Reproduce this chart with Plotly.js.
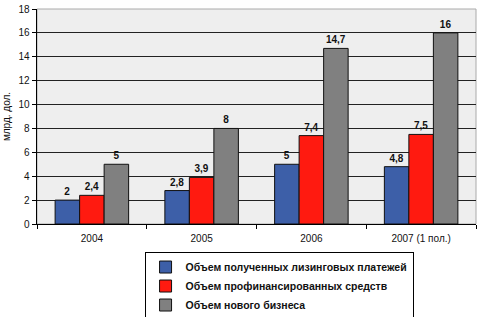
<!DOCTYPE html>
<html><head><meta charset="utf-8">
<script src="https://cdn.plot.ly/plotly-3.0.1.min.js"></script>
<style>html,body{margin:0;padding:0;background:#fff}#chart{width:480px;height:317px}</style>
</head><body><div id="chart"></div>
<script>
const categories = ['2004', '2005', '2006', '2007 (1 пол.)'];
const seriesNames = ['Объем полученных лизинговых платежей', 'Объем профинансированных средств', 'Объем нового бизнеса'];
const payments = [2, 2.8, 5, 4.8];
const financed = [2.4, 3.9, 7.4, 7.5];
const newBusiness = [5, 8, 14.7, 16];
const yTicks = [0, 2, 4, 6, 8, 10, 12, 14, 16, 18];
const colors = ['#3d5fa8', '#ff1a10', '#808080'];

const font = {family: 'Arial, "Liberation Sans", sans-serif', color: '#111'};
const values = [payments, financed, newBusiness];
const traces = values.map((v, i) => ({
  type: 'bar', name: seriesNames[i], x: categories, y: v,
  marker: {color: colors[i], line: {color: '#111', width: 1}},
  texttemplate: '%{y}', textposition: 'outside', cliponaxis: false,
  textfont: {family: font.family, size: 10, color: '#111', weight: 'bold'}
}));

const layout = {
  width: 480, height: 317,
  margin: {l: 37, r: 4, t: 9, b: 93, autoexpand: false},
  paper_bgcolor: '#ffffff', plot_bgcolor: '#eeeeee',
  separators: ', ',
  barmode: 'group', bargap: 0.33, bargroupgap: 0,
  font: font,
  showlegend: true,
  legend: {x: 0.245, y: -0.128, xanchor: 'left', yanchor: 'top', orientation: 'v',
    bgcolor: '#ffffff', bordercolor: '#000', borderwidth: 1,
    font: {family: font.family, size: 10.5, color: '#111', weight: 'bold'},
    itemwidth: 30, tracegroupgap: 0},
  xaxis: {type: 'category', showline: true, linecolor: '#000', linewidth: 1,
    ticks: 'outside', tickson: 'boundaries', ticklen: 4, tickcolor: '#000',
    ticklabelstandoff: 5,
    tickfont: {size: 10, color: '#111'}, showgrid: false, zeroline: false},
  yaxis: {range: [0, 18], tickvals: yTicks, showline: true, linecolor: '#000', linewidth: 1.5,
    ticks: 'outside', ticklen: 4, tickcolor: '#000',
    gridcolor: '#222', gridwidth: 1, zeroline: false,
    tickfont: {size: 10, color: '#111'},
    title: {text: 'млрд. дол.', font: {size: 10, color: '#111'}, standoff: 6}},
  shapes: [{type: 'rect', xref: 'paper', yref: 'paper', x0: 0, x1: 1, y0: 0, y1: 1,
    line: {color: '#aaaaaa', width: 1}, layer: 'below'}]
};
Plotly.newPlot('chart', traces, layout, {displayModeBar: false, staticPlot: true});
</script></body></html>
